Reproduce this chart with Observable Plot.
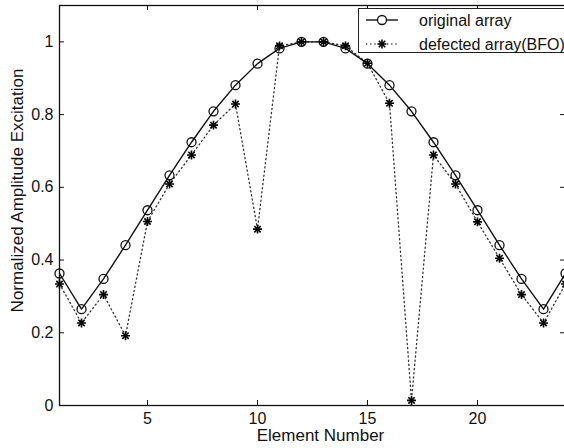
<!DOCTYPE html>
<html><head><meta charset="utf-8">
<script src="https://cdn.jsdelivr.net/npm/d3@7"></script>
<script src="https://cdn.jsdelivr.net/npm/@observablehq/plot@0.6"></script>
<style>
body{margin:0;background:#fff;}
#wrap{position:relative;width:564px;height:448px;overflow:hidden;font-family:"Liberation Sans",Arial,sans-serif;background:#fff;}
#legend{position:absolute;left:358px;top:8px;width:214px;height:45px;border:1px solid #222;background:#fff;box-sizing:border-box;}
#legend svg{position:absolute;left:0;top:0;}
</style></head><body><div id="wrap"></div>
<script>
const elements = [1,2,3,4,5,6,7,8,9,10,11,12,13,14,15,16,17,18,19,20,21,22,23,24];
const original = [0.363,0.265,0.348,0.441,0.537,0.633,0.724,0.809,0.881,0.940,0.982,1.0,1.0,0.982,0.940,0.881,0.809,0.724,0.633,0.537,0.441,0.348,0.265,0.363];
const defected = [0.334,0.227,0.305,0.192,0.506,0.609,0.689,0.771,0.829,0.485,0.989,1.0,1.0,0.989,0.941,0.831,0.014,0.689,0.609,0.505,0.405,0.305,0.227,0.334];
const seriesNames = ["original array", "defected array(BFO)"];
const xTicks = [5,10,15,20];
const yTicks = [0,0.2,0.4,0.6,0.8,1];
const xLabel = "Element Number";
const yLabel = "Normalized Amplitude Excitation";

const data = elements.map((e,i)=>({element:e, original:original[i], defected:defected[i]}));

const chart = Plot.plot({
  width:564, height:448,
  marginLeft:59, marginRight:-1, marginTop:5, marginBottom:43,
  style:{fontFamily:"Liberation Sans, Arial, sans-serif", fontSize:"16px", color:"#111", background:"#fff"},
  x:{domain:[1,24]},
  y:{domain:[0,1.1]},
  marks:[
    Plot.axisY({ticks:yTicks, tickSize:0, tickPadding:6, tickFormat:d=>String(d), label:null, fontSize:16}),
    Plot.axisX({ticks:xTicks, tickSize:0, tickPadding:7, tickFormat:d=>String(d), label:null, fontSize:16}),
    Plot.ruleX(xTicks, {x:d=>d, y1:0, y2:0.0137, stroke:"#111"}),
    Plot.ruleX(xTicks, {x:d=>d, y1:1.1, y2:1.0863, stroke:"#111"}),
    Plot.ruleY(yTicks, {y:d=>d, x1:1, x2:1.227, stroke:"#111"}),
    Plot.ruleY(yTicks, {y:d=>d, x1:24, x2:23.773, stroke:"#111"}),
    Plot.frame({stroke:"#111", strokeWidth:1.3}),
    Plot.line(data, {x:"element", y:"defected", stroke:"#333", strokeWidth:1.3, strokeDasharray:"1.2,3"}),
    Plot.line(data, {x:"element", y:"original", stroke:"#111", strokeWidth:1.4}),
    Plot.dot(data, {x:"element", y:"original", r:4.5, stroke:"#111", fill:"none", strokeWidth:1.3}),
    Plot.dot(data, {x:"element", y:"defected", symbol:"plus", r:3, stroke:"#000", strokeWidth:1.6}),
    Plot.dot(data, {x:"element", y:"defected", symbol:"times", r:3, stroke:"#000", strokeWidth:1.6}),
    Plot.text([xLabel], {frameAnchor:"bottom", text:d=>d, textAnchor:"middle", lineAnchor:"middle", dx:8, dy:30, fontSize:17, fill:"#111"}),
    Plot.text([yLabel], {frameAnchor:"left", text:d=>d, textAnchor:"middle", lineAnchor:"middle", rotate:-90, dx:-42, dy:-15, fontSize:17, fill:"#111"})
  ]
});
const wrap = document.getElementById("wrap");
wrap.appendChild(chart);

// legend
const leg = d3.select(wrap).append("div").attr("id","legend");
const ls = leg.append("svg").attr("width",214).attr("height",45)
  .style("font-family","Liberation Sans, Arial, sans-serif");
const rows = [11, 35];
ls.append("line").attr("x1",7).attr("x2",39).attr("y1",rows[0]).attr("y2",rows[0]).attr("stroke","#111").attr("stroke-width",1.4);
ls.append("circle").attr("cx",23).attr("cy",rows[0]).attr("r",4.5).attr("fill","#fff").attr("stroke","#111").attr("stroke-width",1.3);
ls.append("line").attr("x1",7).attr("x2",39).attr("y1",rows[1]).attr("y2",rows[1]).attr("stroke","#333").attr("stroke-width",1.3).attr("stroke-dasharray","1.2,3");
[d3.symbolPlus, d3.symbolTimes].forEach(t=>{
  ls.append("path").attr("d", d3.symbol(t, 28.4)()).attr("transform",`translate(23,${rows[1]})`)
    .attr("fill","none").attr("stroke","#000").attr("stroke-width",1.6);
});
seriesNames.forEach((n,i)=>{
  ls.append("text").attr("x",60).attr("y",rows[i]).attr("dy","0.35em").attr("font-size",16).attr("fill","#111").text(n);
});
</script></body></html>
